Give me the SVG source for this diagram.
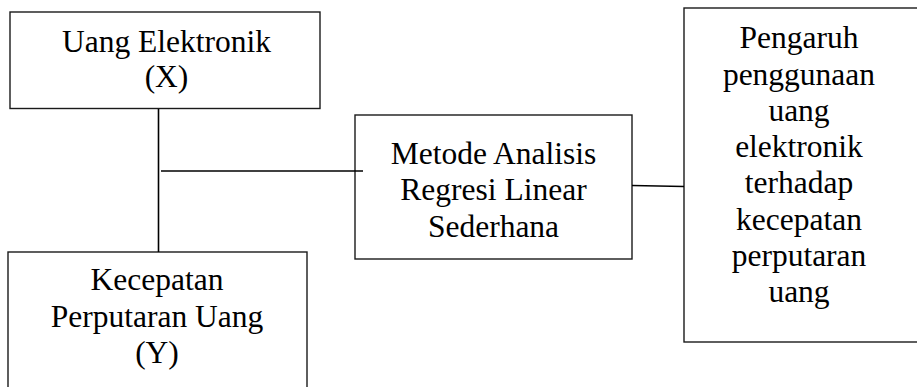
<svg xmlns="http://www.w3.org/2000/svg" width="917" height="387" viewBox="0 0 917 387">
<style>
.box{fill:#fff;stroke:#1a1a1a;stroke-width:1.4}
.ln{stroke:#000;stroke-width:1.6;fill:none}
text{font-family:"Liberation Serif","Times New Roman",serif;font-size:31.5px;fill:#000;text-anchor:middle}
</style>
<rect width="917" height="387" fill="#fff"/>
<g id="node-x">
<rect class="box" x="10" y="12" width="310" height="96.5"/>
<text x="166.5" y="52">Uang Elektronik</text>
<text x="166.5" y="87">(X)</text>
</g>
<g id="node-y">
<rect class="box" x="8" y="252" width="299" height="150"/>
<text x="157" y="290">Kecepatan</text>
<text x="157" y="327">Perputaran Uang</text>
<text x="157" y="363">(Y)</text>
</g>
<g id="node-metode">
<rect class="box" x="355" y="115" width="277" height="144"/>
<text x="493.5" y="164">Metode Analisis</text>
<text x="493.5" y="200">Regresi Linear</text>
<text x="493.5" y="236.5">Sederhana</text>
</g>
<g id="node-pengaruh">
<rect class="box" x="684" y="8" width="250" height="334"/>
<text x="799" y="47.5">Pengaruh</text>
<text x="799" y="85">penggunaan</text>
<text x="799" y="121">uang</text>
<text x="799" y="157">elektronik</text>
<text x="799" y="193">terhadap</text>
<text x="799" y="229.5">kecepatan</text>
<text x="799" y="266">perputaran</text>
<text x="799" y="302">uang</text>
</g>
<g id="connectors">
<line class="ln" x1="158.5" y1="109" x2="158.5" y2="252"/>
<line class="ln" x1="161" y1="171" x2="363" y2="171"/>
<line class="ln" x1="632" y1="185.5" x2="684" y2="186.5"/>
</g>
</svg>
